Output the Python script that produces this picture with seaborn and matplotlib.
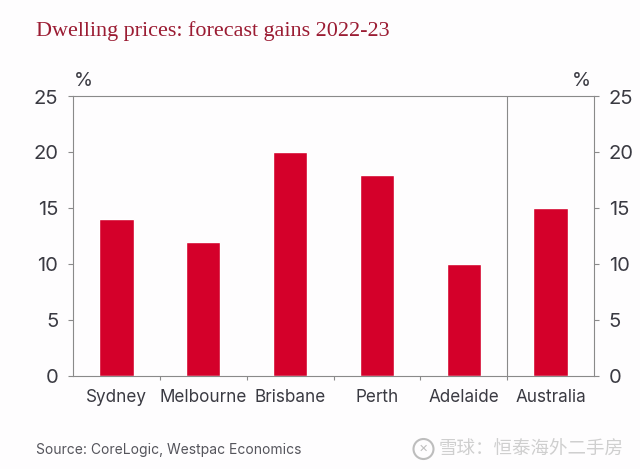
import matplotlib
matplotlib.use("Agg")
import matplotlib.pyplot as plt
from matplotlib.patches import Ellipse
import seaborn as sns

cities = ["Sydney", "Melbourne", "Brisbane", "Perth", "Adelaide", "Australia"]
gains = [14, 12, 20, 18, 10, 15]
y_ticks = [0, 5, 10, 15, 20, 25]

sns.set_theme(style="white")
plt.rcParams["font.family"] = ["Inter", "DejaVu Sans"]

W, H = 640, 469
text_col = "#3a3a42"
line_col = "#8a8a8a"

fig = plt.figure(figsize=(W / 100, H / 100), dpi=100, facecolor="#fefdfe")
ax = fig.add_axes([73 / W, 1 - 376 / H, (594 - 73) / W, (376 - 96.5) / H], facecolor="#fefdfe")

# bars
sns.barplot(x=cities, y=gains, color="#d4002a", saturation=1, width=0.395, ax=ax)
ax.set_xlim(-0.5, 5.5)
ax.set_ylim(0, 25)
ax.axvline(4.5, color=line_col, lw=0.8)

# axes and ticks
for s in ax.spines.values():
    s.set_color(line_col)
    s.set_linewidth(0.8)
ax.set_yticks(y_ticks)
ax.tick_params(axis="y", left=True, right=True, labelleft=True, labelright=True,
               length=3.6, width=0.8, color=line_col, labelsize=14.5, labelcolor=text_col, pad=7)
ax.tick_params(axis="x", bottom=False, labelsize=12.3, labelcolor=text_col, pad=3.5)
ax.set_xticks([0.5, 1.5, 2.5, 3.5, 4.5], minor=True)
ax.tick_params(axis="x", which="minor", bottom=True, length=3, width=0.8, color=line_col)

# titles and notes
fig.text(36 / W, 1 - 31 / H, "Dwelling prices: forecast gains 2022-23", family="Liberation Serif",
         fontsize=15.9, color="#9b1c33", va="center")
fig.text(83 / W, 1 - 81 / H, "%", fontsize=14, color=text_col, ha="center", va="center")
fig.text(581 / W, 1 - 81 / H, "%", fontsize=14, color=text_col, ha="center", va="center")
fig.text(36 / W, 1 - 450 / H, "Source: CoreLogic, Westpac Economics", fontsize=10, color="#55555c", va="center")

# watermark
fig.add_artist(Ellipse((423.5 / W, 1 - 449 / H), 20 / W, 20 / H, transform=fig.transFigure,
                       fill=False, ec="#bdbdbd", lw=1.5))
fig.text(423.5 / W, 1 - 449 / H, "✕", family="DejaVu Sans", fontsize=8, color="#bdbdbd",
         ha="center", va="center")
fig.text(439 / W, 1 - 450 / H, "雪球：恒泰海外二手房", family=["Noto Sans CJK SC", "DejaVu Sans"],
         fontsize=13.3, color="#cfcfcf", va="center")

fig.savefig("out.png", dpi=100, facecolor=fig.get_facecolor())
